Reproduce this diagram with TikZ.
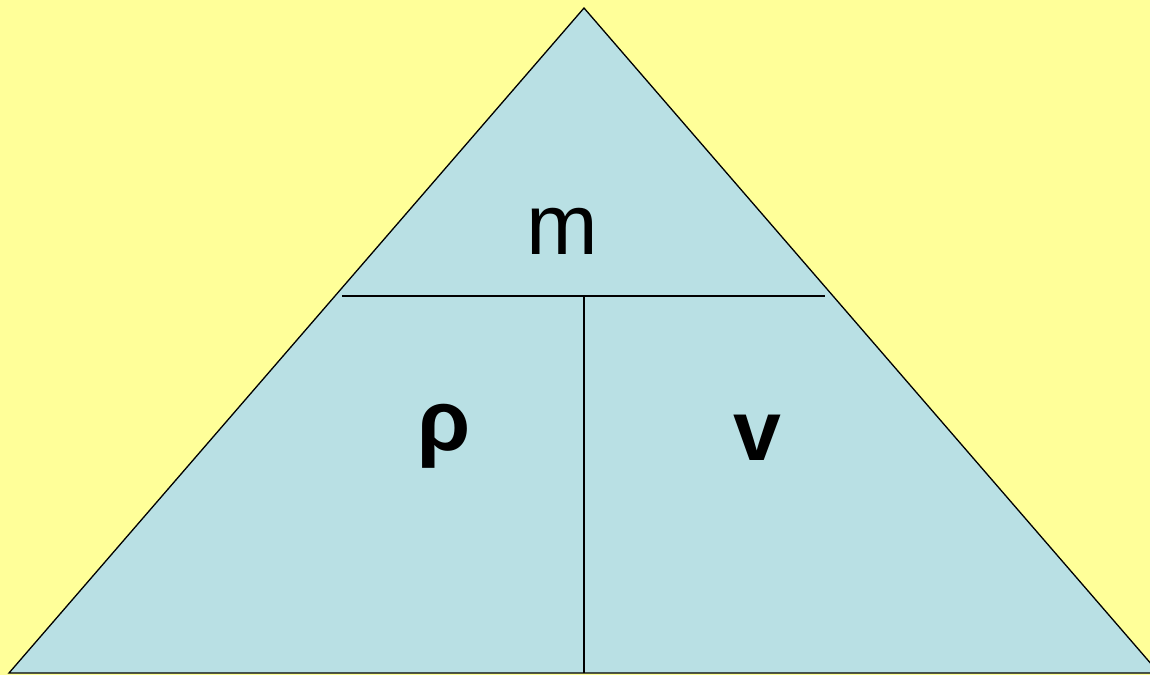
\documentclass[tikz,border=0pt]{standalone}
\usepackage{fontspec}
\setmainfont{Liberation Sans}
\usepackage{tikz}

\definecolor{bgyellow}{RGB}{255,255,153}
\definecolor{triblue}{RGB}{185,224,228}

\begin{document}
\begin{tikzpicture}[x=1pt,y=-1pt,line width=1.3pt]

  % Page: 1150 x 675, y grows downward
  \fill[bgyellow] (0,0) rectangle (1150,675);
  \useasboundingbox (0,0) rectangle (1150,675);

  % --- Corners of the triangle ---
  \coordinate (apex)  at (584,8);
  \coordinate (left)  at (9,673);
  \coordinate (right) at (1159,673);

  % --- Ends of the dividing lines ---
  \coordinate (midL) at (342,296);
  \coordinate (midR) at (825,296);
  \coordinate (midC) at (584,296);
  \coordinate (botC) at (584,673);

  % --- Triangle ---
  \filldraw[fill=triblue, line join=miter] (apex) -- (left) -- (right) -- cycle;

  % --- Dividers ---
  \draw (midL) -- (midR);
  \draw (midC) -- (botC);

  % --- Labels ---
  % mass on top
  \node[anchor=base, inner sep=0pt, font=\fontsize{86}{86}\selectfont] (mass) at (562,254) {m};
  % density, lower left
  \node[anchor=base, inner sep=0pt, font=\fontsize{86}{86}\selectfont\bfseries] (rho) at (444,450) {ρ};
  % volume, lower right
  \node[anchor=base, inner sep=0pt, font=\fontsize{86}{86}\selectfont\bfseries] (vol) at (757,460) {v};

\end{tikzpicture}
\end{document}
